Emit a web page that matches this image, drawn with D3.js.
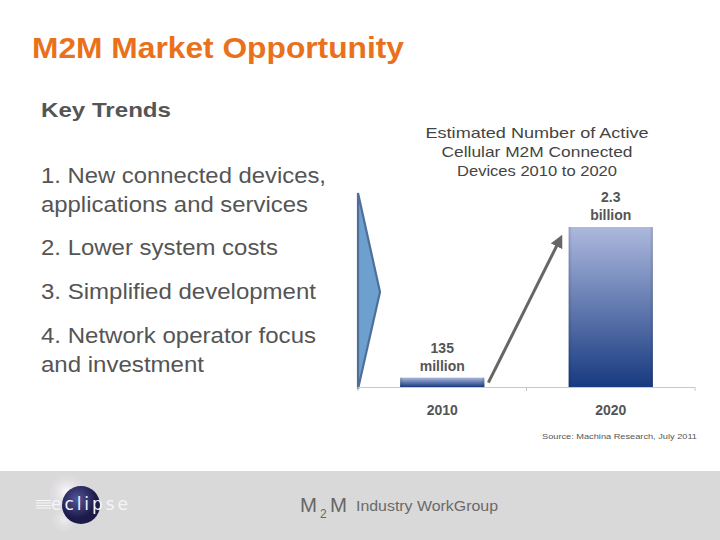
<!DOCTYPE html>
<html><head><meta charset="utf-8">
<script src="https://cdn.jsdelivr.net/npm/d3@7"></script>
<style>body{margin:0;background:#fff}svg{display:block;font-family:"Liberation Sans",Arial,sans-serif}</style>
</head><body><svg id="c" width="720" height="540"></svg>
<script>
const years = ["2010", "2020"];
const devicesMillions = [135, 2300];
const valueLabels = [["135", "million"], ["2.3", "billion"]];
const chartTitle = ["Estimated  Number of  Active", "Cellular  M2M Connected", "Devices 2010 to 2020"];
const trends = [["1. New connected devices,", "applications and services"], ["2. Lower system costs"], ["3. Simplified development"], ["4. Network operator focus", "and investment"]];
const source = "Source:  Machina Research, July 2011";

const svg = d3.select("#c");
const defs = svg.append("defs");

function stretchText(sel, len) {
  return sel.attr("textLength", len).attr("lengthAdjust", "spacingAndGlyphs");
}

// title
stretchText(svg.append("text").attr("x", 32).attr("y", 58).attr("font-size", 29.5).attr("font-weight", "bold")
  .attr("fill", "#e9711c").text("M2M Market Opportunity"), 372);
stretchText(svg.append("text").attr("x", 41).attr("y", 117).attr("font-size", 21).attr("font-weight", "bold")
  .attr("fill", "#555").text("Key Trends"), 130);

// trends list
const trendY = [[183, 212], [255], [299], [343, 372]];
const trendW = [[285, 267], [237], [275], [275, 163]];
trends.forEach((lines, i) => {
  lines.forEach((l, j) => {
    stretchText(svg.append("text").attr("x", 41).attr("y", trendY[i][j]).attr("font-size", 21.5)
      .attr("fill", "#555").text(l), trendW[i][j]);
  });
});

// chart
const x = d3.scaleBand().domain(years).range([358, 695]).paddingInner(0.5).paddingOuter(0.25);
const y = d3.scaleLinear().domain([0, 2300]).range([387, 227]);

// chart title
const titleW = [223, 191, 160];
chartTitle.forEach((t, i) => {
  stretchText(svg.append("text").attr("x", 537 - titleW[i] / 2).attr("y", 138 + i * 19)
    .attr("font-size", 15).attr("fill", "#444").text(t), titleW[i]);
});

// left chevron
svg.append("path").attr("d", "M358,193 L380,292 L358,389 Z").attr("fill", "#6d9fcf")
  .attr("stroke", "#4f6f98").attr("stroke-width", 2.2);

// gradient
const g = defs.append("linearGradient").attr("id", "barGrad").attr("x1", 0).attr("y1", 0).attr("x2", 0).attr("y2", 1);
g.append("stop").attr("offset", "0%").attr("stop-color", "#adb9de");
g.append("stop").attr("offset", "100%").attr("stop-color", "#173a80");
const gh = defs.append("linearGradient").attr("id", "barEdge").attr("x1", 0).attr("y1", 0).attr("x2", 1).attr("y2", 0);
gh.append("stop").attr("offset", "0%").attr("stop-color", "#000").attr("stop-opacity", 0.15);
gh.append("stop").attr("offset", "4%").attr("stop-color", "#000").attr("stop-opacity", 0);
gh.append("stop").attr("offset", "96%").attr("stop-color", "#000").attr("stop-opacity", 0);
gh.append("stop").attr("offset", "100%").attr("stop-color", "#000").attr("stop-opacity", 0.15);

const data = years.map((yr, i) => ({ yr, v: devicesMillions[i], lab: valueLabels[i] }));

svg.selectAll("rect.bar").data(data).enter().append("rect").attr("class", "bar")
  .attr("x", d => x(d.yr)).attr("y", d => y(d.v)).attr("width", x.bandwidth())
  .attr("height", d => y(0) - y(d.v)).attr("fill", "url(#barGrad)");
svg.selectAll("rect.edge").data(data).enter().append("rect").attr("class", "edge")
  .attr("x", d => x(d.yr)).attr("y", d => y(d.v)).attr("width", x.bandwidth())
  .attr("height", d => y(0) - y(d.v)).attr("fill", "url(#barEdge)");

// axis
svg.append("line").attr("x1", 358).attr("x2", 695).attr("y1", 387.5).attr("y2", 387.5)
  .attr("stroke", "#c8c8c8").attr("stroke-width", 1);
const bounds = [358, (x("2010") + x.bandwidth() + x("2020")) / 2, 695];
bounds.forEach(b => svg.append("line").attr("x1", b).attr("x2", b).attr("y1", 387).attr("y2", 391)
  .attr("stroke", "#c8c8c8"));

svg.selectAll("text.yr").data(data).enter().append("text").attr("class", "yr")
  .attr("x", d => x(d.yr) + x.bandwidth() / 2).attr("y", 415).attr("text-anchor", "middle")
  .attr("font-size", 14).attr("font-weight", "bold").attr("fill", "#555").text(d => d.yr);

data.forEach(d => {
  const cx = x(d.yr) + x.bandwidth() / 2;
  const top = y(d.v);
  d.lab.forEach((l, j) => {
    svg.append("text").attr("x", cx).attr("y", top - 25 + j * 18).attr("text-anchor", "middle")
      .attr("font-size", 14).attr("font-weight", "bold").attr("fill", "#555").text(l);
  });
});

// growth arrow
defs.append("marker").attr("id", "ah").attr("viewBox", "0 0 10 10").attr("refX", 2).attr("refY", 5)
  .attr("markerWidth", 4.3).attr("markerHeight", 4.3).attr("orient", "auto")
  .append("path").attr("d", "M0,0 L10,5 L0,10 Z").attr("fill", "#666");
const ax0 = x("2010") + x.bandwidth() + 4, ay0 = y(devicesMillions[0]) + 5;
const ax1 = x("2020") - 11, ay1 = y(devicesMillions[1]) + 17;
svg.append("line").attr("x1", ax0).attr("y1", ay0).attr("x2", ax1).attr("y2", ay1)
  .attr("stroke", "#666").attr("stroke-width", 3).attr("marker-end", "url(#ah)");

// source
stretchText(svg.append("text").attr("x", 542).attr("y", 439).attr("font-size", 8)
  .attr("fill", "#555").text(source), 155);

// footer
svg.append("rect").attr("x", 0).attr("y", 471).attr("width", 720).attr("height", 69).attr("fill", "#d9d9d9");
const rg = defs.append("radialGradient").attr("id", "glow");
rg.append("stop").attr("offset", "0%").attr("stop-color", "#fff").attr("stop-opacity", 0.95);
rg.append("stop").attr("offset", "100%").attr("stop-color", "#eadcea").attr("stop-opacity", 0);
svg.append("circle").attr("cx", 67).attr("cy", 492).attr("r", 20).attr("fill", "url(#glow)");
svg.append("circle").attr("cx", 64).attr("cy", 520).attr("r", 14).attr("fill", "url(#glow)").attr("opacity", 0.6);
const og = defs.append("radialGradient").attr("id", "orb").attr("cx", "40%").attr("cy", "35%");
og.append("stop").attr("offset", "0%").attr("stop-color", "#55559a");
og.append("stop").attr("offset", "100%").attr("stop-color", "#1c1a48");
svg.append("circle").attr("cx", 81).attr("cy", 505).attr("r", 19).attr("fill", "url(#orb)");
[500.5, 503, 505.5, 508].forEach(ly => svg.append("line").attr("x1", 36).attr("x2", 51).attr("y1", ly).attr("y2", ly)
  .attr("stroke", "#f6f6fb").attr("stroke-width", 1));
svg.append("text").attr("x", 51).attr("y", 510).attr("font-size", 17).attr("font-family", "DejaVu Sans")
  .attr("fill", "#f4f4f8").attr("textLength", 77).attr("lengthAdjust", "spacing").text("eclipse");

svg.append("text").attr("x", 300).attr("y", 512).attr("font-size", 21).attr("fill", "#666").text("M")
  .attr("textLength", 17).attr("lengthAdjust", "spacingAndGlyphs");
svg.append("text").attr("x", 320).attr("y", 518).attr("font-size", 12).attr("fill", "#666").text("2");
svg.append("text").attr("x", 330).attr("y", 512).attr("font-size", 21).attr("fill", "#666").text("M")
  .attr("textLength", 17).attr("lengthAdjust", "spacingAndGlyphs");
stretchText(svg.append("text").attr("x", 356).attr("y", 511).attr("font-size", 15).attr("fill", "#6a6a6a")
  .text("Industry WorkGroup"), 142);
</script></body></html>
